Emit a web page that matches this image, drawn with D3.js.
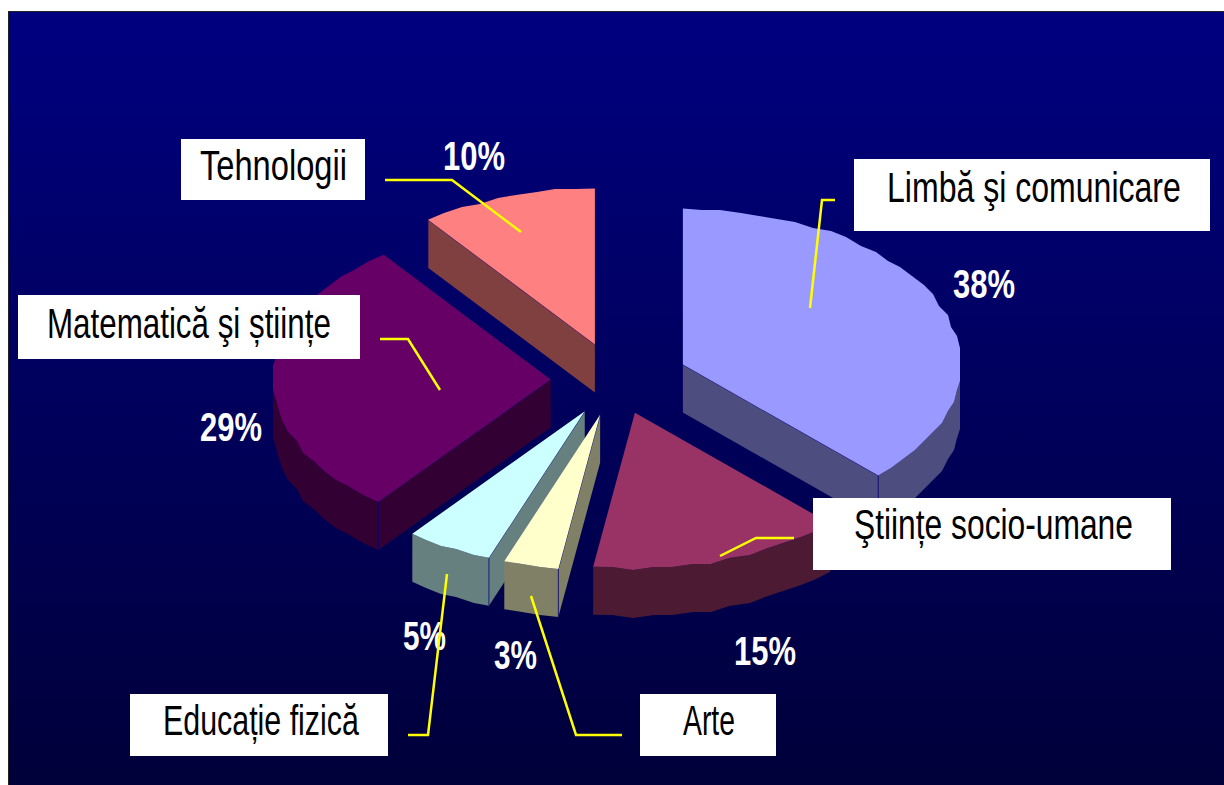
<!DOCTYPE html>
<html><head><meta charset="utf-8">
<script src="https://cdn.jsdelivr.net/npm/d3@7/dist/d3.min.js"></script>
<style>html,body{margin:0;padding:0;background:#fff;overflow:hidden}svg{display:block}</style>
</head><body><svg id="c" width="1224" height="785"></svg>
<script>
// data
const categories = ["Limbă şi comunicare","Ştiințe socio-umane","Arte","Educație fizică","Matematică şi științe","Tehnologii"];
const values = [37.6,14.8,3.2,5.05,29.1,10.25];
const pctLabels = ["38%","15%","3%","5%","29%","10%"];
// style + layout
const topColors  = ["#9999ff","#993366","#ffffcc","#ccffff","#660066","#ff8080"];
const wallColors = ["#4d4d80","#4d1a33","#808066","#668080","#330033","#804040"];
const explode = [0.26,0.22,0.23,0.23,0.235,0.24];
const pieCenter = [616,380], rx = 278, ry = 156, depth = 48, snap = 3;
const pctPos = [[953,298],[734,665],[494,669],[403,650],[200,441],[443,170]];
const pctWid = [62,62,43,43,62,62];
const boxes = [
  {b:[854,159,1210,231],t:[887,202,294]},
  {b:[813,498,1171,570],t:[854,539,279]},
  {b:[640,694,776,756],t:[683,735,52]},
  {b:[130,694,388,756],t:[163,735,196]},
  {b:[18,295,360,359],t:[47,338,284]},
  {b:[181,139,365,200],t:[200,180,147]}
];
const leaders = [
  [[835,200],[822,200],[810,308]],
  [[794,538],[756,538],[720,556]],
  [[622,735],[576,735],[531,596]],
  [[408,735],[428,735],[447,574]],
  [[380,339],[408,339],[440,390]],
  [[385,180],[452,180],[521,232]]
];

const svg = d3.select("#c");
const grad = svg.append("defs").append("linearGradient").attr("id","bg").attr("x1",0).attr("y1",0).attr("x2",0).attr("y2",1);
grad.append("stop").attr("offset","0%").attr("stop-color","#000080");
grad.append("stop").attr("offset","100%").attr("stop-color","#00003a");
svg.append("rect").attr("x",8).attr("y",11).attr("width",1216).attr("height",774).attr("fill","url(#bg)");
svg.append("rect").attr("x",8).attr("y",11).attr("width",1216).attr("height",1).attr("fill","#222");
svg.append("rect").attr("x",8).attr("y",11).attr("width",1).attr("height",774).attr("fill","#222");

const arcs = d3.pie().sort(null).value(d=>d)(values);
const line = d3.line();
const STEP = 4*Math.PI/180;
const arcAngles = (a,b)=>{
  const n = Math.max(1,Math.round((b-a)/STEP));
  return d3.range(n+1).map(i=>a+(b-a)*i/n);
};
const slices = arcs.map((a,i)=>{
  const mid=(a.startAngle+a.endAngle)/2;
  const ox=pieCenter[0]+explode[i]*rx*Math.sin(mid), oy=pieCenter[1]-explode[i]*ry*Math.cos(mid);
  const pt=t=>[ox+rx*Math.sin(t),oy-ry*Math.cos(t)];
  return {i,a,mid,o:[ox,oy],pt};
}).sort((p,q)=>d3.descending(Math.cos(p.mid),Math.cos(q.mid)));
const down = p=>[p[0],p[1]+depth];
// the reference rim is slightly scalloped: snap inner rim points to a small grid
const coarse = pts=>pts.map((p,k)=>(k===0||k===pts.length-1)?p:[Math.round(p[0]/snap)*snap,Math.round(p[1]/snap)*snap]);

const g = svg.append("g");
slices.forEach(s=>{
  const {startAngle:a0,endAngle:a1}=s.a;
  const gs=g.append("g");
  const wall=wallColors[s.i], top=topColors[s.i];
  const quad=(p,q)=>line([p,q,down(q),down(p)])+"Z";
  [[a0,-1],[a1,1]].forEach(([t,sg])=>{
    if(sg*Math.sin(t)>1e-6){
      gs.append("path").attr("d",quad(s.o,s.pt(t))).attr("fill",wall);
    }
  });
  const angles=arcAngles(a0,a1);
  const rim=coarse(angles.map(s.pt));
  const vis=rim.filter((p,k)=>angles[k]>=Math.PI/2-STEP&&angles[k]<=1.5*Math.PI+STEP);
  if(Math.min(a1,1.5*Math.PI)>Math.max(a0,Math.PI/2)){
    gs.append("path").attr("d",line(vis.concat(vis.map(down).reverse()))+"Z").attr("fill",wall);
  }
  [[a0,-1],[a1,1]].forEach(([t,sg])=>{
    if(sg*Math.sin(t)>1e-6){
      const r=s.pt(t);
      gs.append("path").attr("d",line([s.o,r,down(r)])).attr("fill","none").attr("stroke","#000080").attr("stroke-opacity",.75).attr("stroke-width",1);
    }
  });
  gs.append("path").attr("d",line([s.o].concat(rim))+"Z").attr("fill",top);
});

// squeeze text horizontally to the reference's narrow proportions
function fit(sel,wid){
  sel.each(function(d,i){
    const t=d3.select(this), [x,y]=t.datum().pos, natural=this.getComputedTextLength();
    t.attr("transform",`translate(${x},${y}) scale(${wid(i)/natural},1)`);
  });
}
const FONT="'Liberation Sans',Arial,sans-serif";

svg.append("g").selectAll("text").data(pctLabels.map((s,i)=>({s,pos:pctPos[i]}))).join("text")
  .attr("font-family",FONT).attr("font-weight","bold").attr("font-size",41)
  .attr("fill","#fff").text(d=>d.s).call(fit,i=>pctWid[i]);

svg.append("g").selectAll("path").data(leaders).join("path")
  .attr("d",d=>line(d)).attr("fill","none").attr("stroke","#ffff00").attr("stroke-width",2.5);

const lb=svg.append("g").selectAll("g").data(categories.map((s,i)=>({s,pos:boxes[i].t,b:boxes[i].b}))).join("g");
lb.append("rect").attr("x",d=>d.b[0]).attr("y",d=>d.b[1])
  .attr("width",d=>d.b[2]-d.b[0]).attr("height",d=>d.b[3]-d.b[1]).attr("fill","#fff");
lb.append("text").attr("font-family",FONT).attr("font-size",43).attr("fill","#000")
  .text(d=>d.s).call(fit,i=>boxes[i].t[2]);
</script></body></html>
